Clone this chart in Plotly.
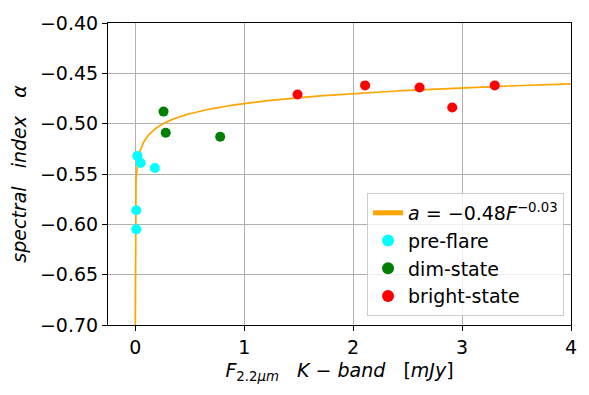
import numpy as np
import plotly.graph_objects as go

# fit parameters, a = A * F^B
fit_A = -0.48
fit_B = -0.03

pre_x = [0.02, 0.05, 0.18, 0.01, 0.01]
pre_y = [-0.532, -0.539, -0.544, -0.586, -0.605]

dim_x = [0.26, 0.28, 0.78]
dim_y = [-0.488, -0.509, -0.513]

bright_x = [1.49, 2.11, 2.61, 2.91, 3.30]
bright_y = [-0.471, -0.462, -0.464, -0.484, -0.462]

fx = np.logspace(-6, np.log10(4.2), 600)
fy = fit_A * fx ** fit_B

font = "DejaVu Sans"
fs = 19

fig = go.Figure()
fig.add_trace(go.Scatter(
    x=fx, y=fy, mode="lines", line=dict(color="orange", width=1.7),
    name="<i>a</i> = −0.48<i>F</i><sup>−0.03</sup>",
))
fig.add_trace(go.Scatter(x=pre_x, y=pre_y, mode="markers",
                         marker=dict(color="cyan", size=10), name="pre-flare"))
fig.add_trace(go.Scatter(x=dim_x, y=dim_y, mode="markers",
                         marker=dict(color="green", size=10), name="dim-state"))
fig.add_trace(go.Scatter(x=bright_x, y=bright_y, mode="markers",
                         marker=dict(color="red", size=10), name="bright-state"))

axis_style = dict(
    showline=True, mirror=True, linecolor="black", linewidth=1,
    ticks="outside", ticklen=5, tickcolor="black",
    showgrid=True, gridcolor="#b0b0b0", gridwidth=1, zeroline=False,
    tickfont=dict(size=fs, color="black"),
)

fig.update_xaxes(
    range=[-0.25, 4], tickvals=[0, 1, 2, 3, 4],
    title=dict(text="<i>F</i><sub>2.2<i>μm</i></sub>   <i>K</i> − <i>band</i>   [<i>mJy</i>]",
               font=dict(size=fs, color="black"), standoff=6),
    **axis_style,
)
fig.update_yaxes(
    range=[-0.70, -0.40], tickvals=[-0.70, -0.65, -0.60, -0.55, -0.50, -0.45, -0.40],
    tickformat=".2f",
    title=dict(text="<i>spectral   index   α</i>",
               font=dict(size=fs, color="black"), standoff=8),
    **axis_style,
)

fig.update_layout(
    width=589, height=395,
    margin=dict(l=108, r=16, t=17, b=70),
    plot_bgcolor="white", paper_bgcolor="white",
    font=dict(family=font, size=fs, color="black"),
    legend=dict(
        x=0.985, y=0.03, xanchor="right", yanchor="bottom",
        bgcolor="rgba(255,255,255,0.8)", bordercolor="#cccccc", borderwidth=1,
        font=dict(size=fs), itemsizing="constant",
    ),
)

fig.write_html("out.html", config={"displayModeBar": False},
               post_script="document.body.style.margin='0';")
